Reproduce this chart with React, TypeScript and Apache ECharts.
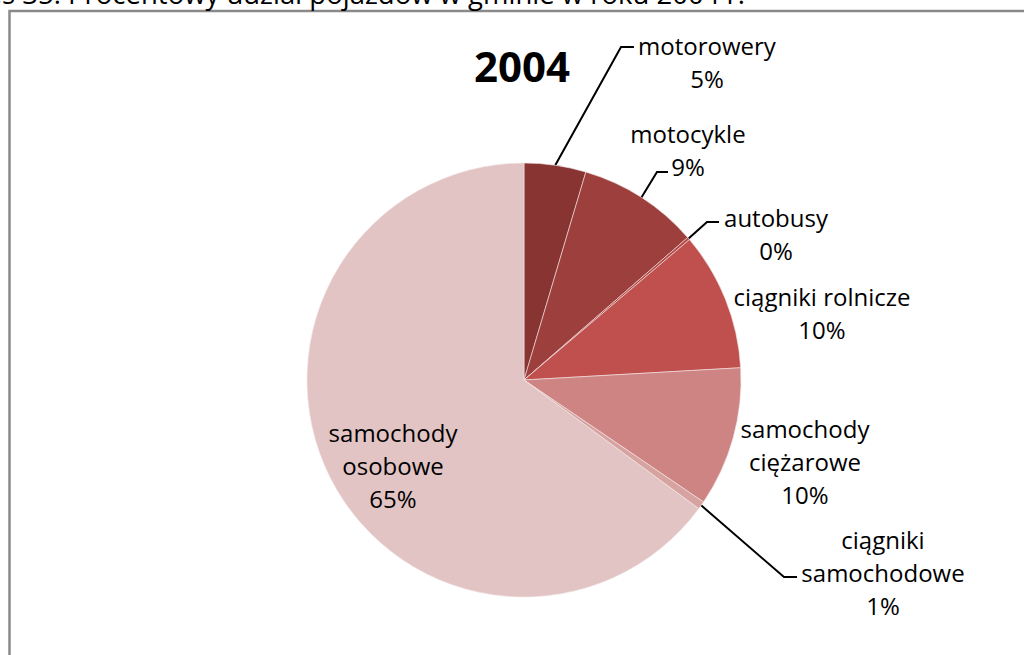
import React, { useEffect, useRef } from "react";
import * as echarts from "echarts";

const categories = [
  "motorowery",
  "motocykle",
  "autobusy",
  "ciągniki rolnicze",
  "samochody ciężarowe",
  "ciągniki samochodowe",
  "samochody osobowe",
];
const labelTexts = [
  "motorowery",
  "motocykle",
  "autobusy",
  "ciągniki rolnicze",
  "samochody\nciężarowe",
  "ciągniki\nsamochodowe",
  "samochody\nosobowe",
];
const shares = [4.6, 9.0, 0.2, 10.3, 10.4, 0.6, 64.9];
const colors = ["#873432", "#9D3F3D", "#B04846", "#C0504D", "#CD8482", "#D7A3A1", "#E3C4C4"];
const chartTitle = "2004";
const headerText = "Wykres 35. Procentowy udział pojazdów w gminie w roku 2004 r.";

// label placement (center of label block) and leader line elbow per slice
const labelPos: [number, number][] = [
  [707, 62],
  [688, 150],
  [776, 234],
  [822, 313],
  [805, 461],
  [883, 572],
  [393, 465],
];
const leaderElbow: ([number, number, number] | null)[] = [
  [621, 47, 634],
  [657, 172, 668],
  [707, 222, 719],
  null,
  null,
  [784, 577, 797],
  null,
];

const FONT = "'Open Sans', 'Noto Sans', sans-serif";

export default function App() {
  const ref = useRef<HTMLDivElement>(null);
  useEffect(() => {
    document.body.style.margin = "0";
    if (!ref.current) return;
    const chart = echarts.init(ref.current, null, { renderer: "svg" });
    chart.setOption({
      animation: false,
      backgroundColor: "#ffffff",
      graphic: [
        {
          type: "polyline",
          shape: { points: [[9.5, 700], [9.5, 11], [1040, 11]] },
          style: { stroke: "#8a8a8a", lineWidth: 2.5, fill: null },
          silent: true,
        },
        {
          type: "text",
          x: 745,
          y: 7,
          style: {
            text: headerText,
            fill: "#000",
            font: `27.5px ${FONT}`,
            textAlign: "right",
            textVerticalAlign: "bottom",
          },
        },
        {
          type: "text",
          x: 522,
          y: 65,
          style: {
            text: chartTitle,
            fill: "#000",
            font: `bold 42px ${FONT}`,
            textAlign: "center",
            textVerticalAlign: "middle",
          },
        },
      ],
      series: [
        {
          type: "pie",
          center: [524, 380],
          radius: [0, 217],
          startAngle: 90,
          clockwise: true,
          avoidLabelOverlap: false,
          itemStyle: { borderColor: "#f4e6e6", borderWidth: 0.6 },
          label: {
            show: true,
            position: "outside",
            color: "#000",
            fontFamily: FONT,
            fontSize: 24,
            lineHeight: 33,
            align: "center",
            formatter: (p: any) => `${labelTexts[p.dataIndex]}\n${Math.round(p.percent)}%`,
          },
          labelLine: {
            show: true,
            lineStyle: { color: "#000", width: 2 },
          },
          labelLayout: (p: any) => {
            const i = p.dataIndex;
            const pos = labelPos[i];
            const res: any = {
              x: pos[0],
              y: pos[1],
              align: "center",
              verticalAlign: "middle",
            };
            const e = leaderElbow[i];
            if (e && p.labelLinePoints) {
              const start = p.labelLinePoints[0];
              res.labelLinePoints = [start, [e[0], e[1]], [e[2], e[1]]];
            }
            return res;
          },
          data: categories.map((name, i) => ({
            name,
            value: shares[i],
            itemStyle: { color: colors[i] },
            labelLine: { show: leaderElbow[i] !== null },
          })),
        },
      ],
    });
    return () => chart.dispose();
  }, []);
  return <div ref={ref} style={{ position: "absolute", left: 0, top: 0, width: 1024, height: 655 }} />;
}
